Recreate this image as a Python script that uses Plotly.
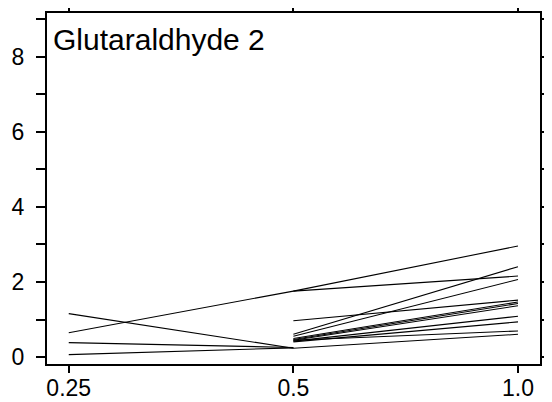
import plotly.graph_objects as go

# Concentrations (x) and per-sample responses (None = not measured)
concentrations = [0.25, 0.5, 1.0]
x_tick_labels = ["0.25", "0.5", "1.0"]
y_tick_values = [0, 1, 2, 3, 4, 5, 6, 7, 8, 9]
y_tick_labels = ["0", "", "2", "", "4", "", "6", "", "8", ""]
panel_title = "Glutaraldhyde 2"

sample_01 = [0.65, 1.76, 2.96]
sample_02 = [1.16, 0.24, 0.61]
sample_03 = [0.39, 0.26, None]
sample_04 = [0.07, 0.25, None]
sample_05 = [None, 1.76, 2.16]
sample_06 = [None, 0.97, 1.52]
sample_07 = [None, 0.61, 2.41]
sample_08 = [None, 0.56, 2.07]
sample_09 = [None, 0.50, 1.47]
sample_10 = [None, 0.47, 1.43]
sample_11 = [None, 0.45, 1.37]
sample_12 = [None, 0.43, 1.09]
sample_13 = [None, 0.41, 0.94]
sample_14 = [None, 0.45, 0.70]

samples = [sample_01, sample_02, sample_03, sample_04, sample_05, sample_06, sample_07,
           sample_08, sample_09, sample_10, sample_11, sample_12, sample_13, sample_14]

FONT = "Arial, 'Liberation Sans', sans-serif"

fig = go.Figure()
for s in samples:
    fig.add_trace(go.Scatter(x=concentrations, y=s, mode="lines",
                             line=dict(color="black", width=1.1),
                             connectgaps=False, showlegend=False, hoverinfo="skip"))

# The page body adds an 8px offset, so the figure is 8px smaller than the window.
fig.update_layout(
    template="none",
    width=544, height=394,
    margin=dict(l=39, r=12, t=5, b=38, autoexpand=False),
    paper_bgcolor="white", plot_bgcolor="white",
    font=dict(family=FONT, size=23, color="black"),
    showlegend=False,
)

fig.update_xaxes(
    type="log", range=[-0.6312, 0.0295], automargin=False,
    tickvals=concentrations, ticktext=x_tick_labels,
    ticks="outside", ticklen=7, tickwidth=2, tickcolor="black",
    ticklabelstandoff=-5,
    showline=True, linewidth=2, linecolor="black", mirror="allticks",
    showgrid=False, zeroline=False,
    tickfont=dict(family=FONT, size=23, color="black"),
)
fig.update_yaxes(
    range=[-0.18, 9.16], automargin=False,
    tickvals=y_tick_values, ticktext=y_tick_labels,
    ticks="outside", ticklen=9, tickwidth=2, tickcolor="black",
    ticklabelstandoff=7,
    showline=True, linewidth=2, linecolor="black", mirror="allticks",
    showgrid=False, zeroline=False,
    tickfont=dict(family=FONT, size=23, color="black"),
)

fig.add_annotation(
    text=panel_title, xref="paper", yref="paper", x=0, y=1,
    xanchor="left", yanchor="top", xshift=4, yshift=-8,
    showarrow=False, font=dict(family=FONT, size=30, color="black"),
)

fig.write_html("out.html")
